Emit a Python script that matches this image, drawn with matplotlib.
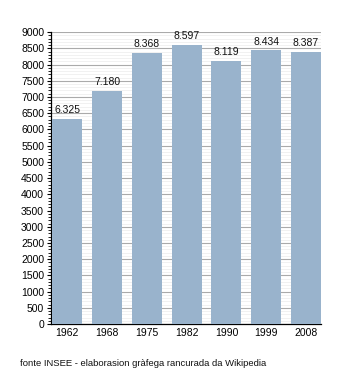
import matplotlib
matplotlib.use("Agg")
import matplotlib.pyplot as plt
from matplotlib.ticker import MultipleLocator

years = ["1962", "1968", "1975", "1982", "1990", "1999", "2008"]
population = [6325, 7180, 8368, 8597, 8119, 8434, 8387]

bar_color = "#99b3cc"
plt.rcParams["font.family"] = ["Liberation Sans", "DejaVu Sans"]

fig = plt.figure(figsize=(3.5, 3.73), dpi=100)
ax = fig.add_axes([0.146, 0.131, 0.771, 0.783])

width = 0.75
x = list(range(len(years)))
ax.bar(x, population, width=width, color=bar_color, zorder=3)
for xi, v in zip(x, population):
    ax.text(xi, v + 120, f"{v // 1000}.{v % 1000:03d}", ha="center", va="bottom",
            fontsize=7.5, color="#111111", zorder=4)

ax.set_xlim(-width / 2 - 0.03, len(years) - 1 + width / 2)
ax.set_ylim(0, 9000)
ax.set_xticks(x)
ax.set_xticklabels(years)
ax.yaxis.set_major_locator(MultipleLocator(500))
ax.yaxis.set_minor_locator(MultipleLocator(100))

ax.grid(axis="y", which="major", color="#aaaaaa", linewidth=0.8, zorder=1)
ax.grid(axis="y", which="minor", color="#ececec", linewidth=0.5, zorder=0)
ax.set_axisbelow(True)

for side in ["top", "right"]:
    ax.spines[side].set_visible(False)
ax.spines["left"].set_linewidth(0.9)
ax.spines["bottom"].set_linewidth(0.9)

ax.tick_params(axis="y", which="major", length=3, width=0.8, labelsize=7.5, pad=2)
ax.tick_params(axis="y", which="minor", length=2, width=0.6)
ax.tick_params(axis="x", length=0, labelsize=7.5, pad=3)

fig.text(0.057, 0.018, "fonte INSEE - elaborasion gràfega rancurada da Wikipedia",
         fontsize=6.8, color="#111111")

fig.savefig("out.png", dpi=100, facecolor="white")
